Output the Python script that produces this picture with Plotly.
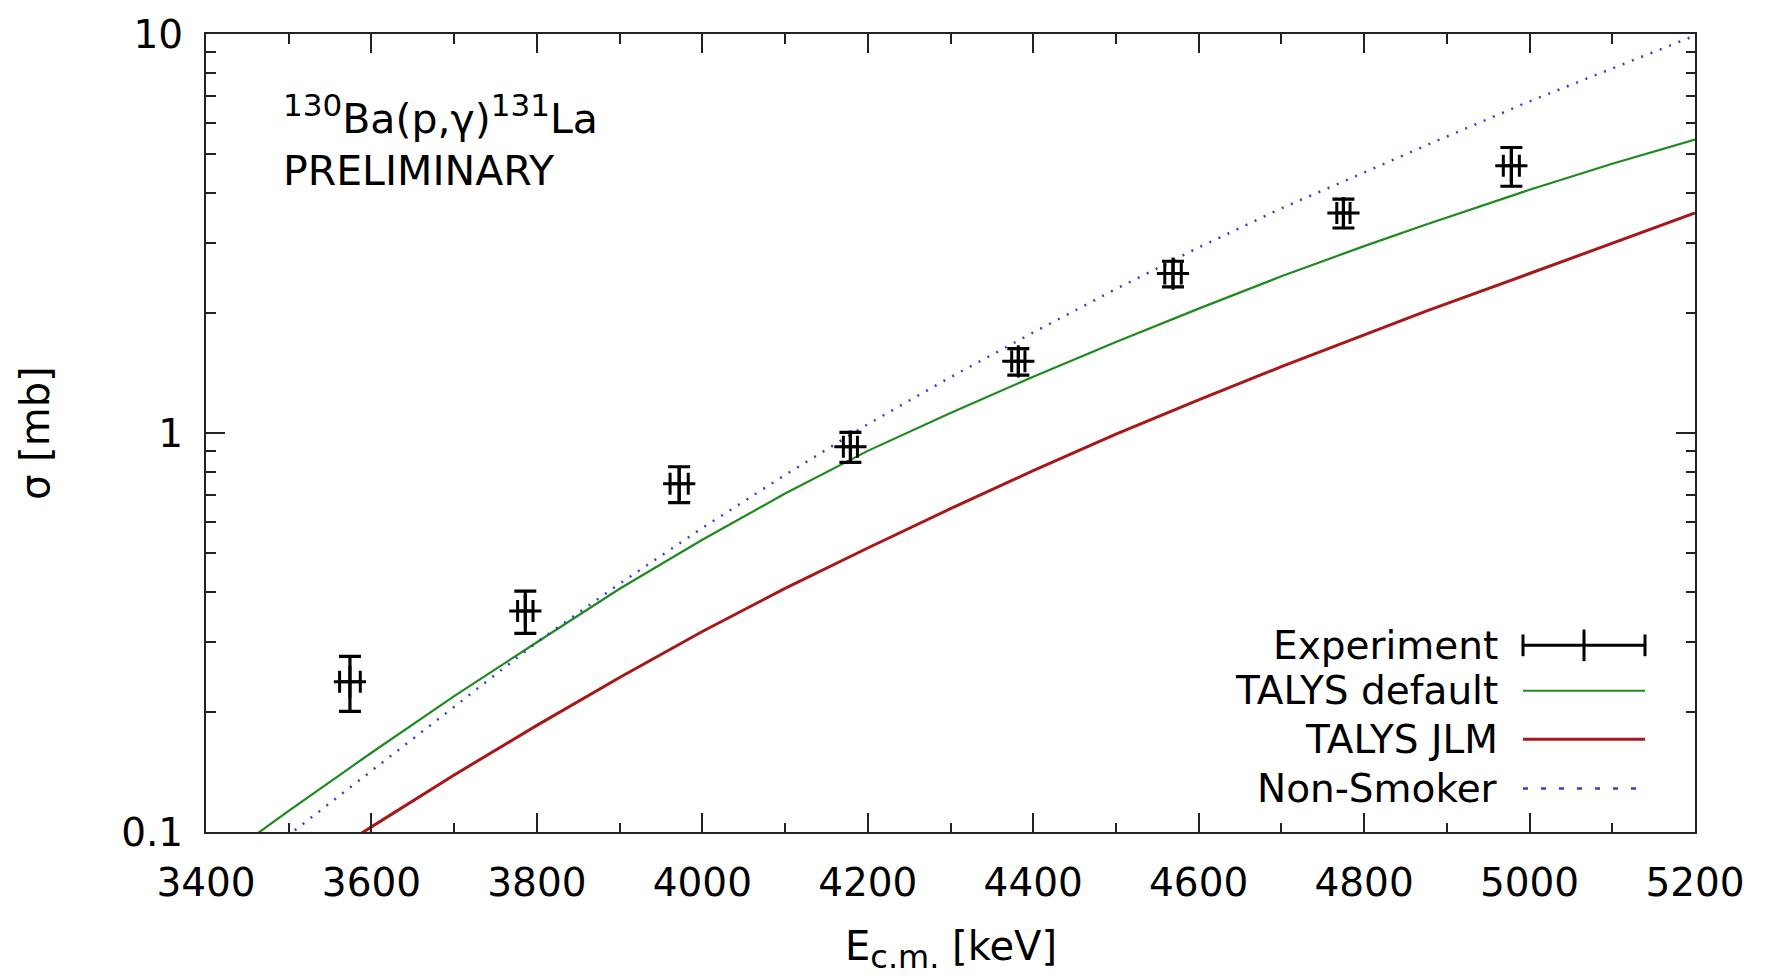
import plotly.graph_objects as go

# Measured cross sections of 130Ba(p,g)131La
exp_energy = [3574, 3786, 3972, 4179, 4382, 4569, 4775, 4978]          # keV (c.m.)
exp_energy_err = [12.5, 9.3, 11.0, 8.5, 8.0, 10.0, 8.0, 9.7]            # keV
exp_sigma = [0.238, 0.358, 0.746, 0.924, 1.512, 2.509, 3.559, 4.674]     # mb
exp_sigma_err = [0.0375, 0.0435, 0.077, 0.080, 0.116, 0.185, 0.295, 0.52]

# TALYS default calculation
talys_def_energy = [3400, 3500, 3600, 3700, 3800, 3900, 4000, 4100, 4200, 4300,
                    4400, 4500, 4600, 4700, 4800, 4875, 5000, 5100, 5200]
talys_def_sigma = [0.080, 0.113, 0.158, 0.219, 0.299, 0.407, 0.540, 0.705, 0.902, 1.122,
                   1.384, 1.69, 2.05, 2.47, 2.94, 3.33, 4.07, 4.73, 5.44]

# TALYS with JLM optical potential
talys_jlm_energy = [3500, 3600, 3700, 3800, 3900, 4000, 4100, 4200, 4300,
                    4400, 4500, 4600, 4700, 4800, 4875, 5000, 5100, 5200]
talys_jlm_sigma = [0.0759, 0.103, 0.139, 0.185, 0.244, 0.318, 0.408, 0.515, 0.646,
                   0.805, 0.993, 1.21, 1.466, 1.76, 2.02, 2.51, 2.99, 3.56]

# NON-SMOKER prediction
nonsmoker_energy = [3450, 3500, 3600, 3700, 3800, 3900, 4000, 4100, 4200, 4300,
                    4400, 4500, 4600, 4700, 4800, 4875, 5000, 5100, 5200]
nonsmoker_sigma = [0.0817, 0.0982, 0.142, 0.206, 0.299, 0.419, 0.578, 0.785, 1.052, 1.380,
                   1.786, 2.296, 2.917, 3.656, 4.498, 5.26, 6.78, 8.18, 9.91]

x_ticks = [3400, 3600, 3800, 4000, 4200, 4400, 4600, 4800, 5000, 5200]
y_ticks = [0.1, 1, 10]
y_tick_text = ["0.1", "1", "10"]
y_minor = [0.2, 0.3, 0.4, 0.5, 0.6, 0.7, 0.8, 0.9, 2, 3, 4, 5, 6, 7, 8, 9]

legend_labels = ["Experiment", "TALYS default", "TALYS JLM", "Non-Smoker"]

GREEN = "#1f8a1f"
RED = "#a81818"
BLUE = "#3b3bd0"
FONT = "DejaVu Sans"
FS_TICK = 39
FS_KEY = 39
FS_NOTE = 41
FS_TITLE = 40

W, H = 1767, 978
ML, MR, MT, MB = 206, 72, 24, 146
PW, PH = W - ML - MR, H - MT - MB


def px(xp):
    return (xp - ML) / PW


def py(yp):
    return (H - MB - yp) / PH


fig = go.Figure()

fig.add_trace(go.Scatter(x=talys_def_energy, y=talys_def_sigma, mode="lines",
                         line=dict(color=GREEN, width=2.2), showlegend=False))
fig.add_trace(go.Scatter(x=talys_jlm_energy, y=talys_jlm_sigma, mode="lines",
                         line=dict(color=RED, width=3), showlegend=False))
fig.add_trace(go.Scatter(x=nonsmoker_energy, y=nonsmoker_sigma, mode="lines",
                         line=dict(color=BLUE, width=2.5, dash="2px,8px"), showlegend=False))
fig.add_trace(go.Scatter(
    x=exp_energy, y=exp_sigma, mode="markers",
    marker=dict(symbol="cross-thin", size=23, line=dict(color="black", width=3), color="black"),
    error_y=dict(type="data", array=exp_sigma_err, width=11, thickness=3.2, color="black"),
    error_x=dict(type="data", array=exp_energy_err, width=11, thickness=3, color="black"),
    showlegend=False))

axis_common = dict(
    showline=True, linewidth=2, linecolor="#222", mirror="allticks",
    ticks="inside", ticklen=19, tickwidth=1.6, tickcolor="#222",
    showgrid=False, zeroline=False, ticklabeloverflow="allow",
    tickfont=dict(family=FONT, size=FS_TICK, color="black"),
)

fig.update_xaxes(range=[3400, 5200], tickvals=x_ticks, ticklabelstandoff=15,
                 minor=dict(dtick=100, tick0=3400, ticks="inside", ticklen=9.5,
                            tickwidth=1.6, tickcolor="#222"),
                 **axis_common)
fig.update_yaxes(type="log", range=[-1, 1], tickvals=y_ticks, ticktext=y_tick_text,
                 ticklabelstandoff=13,
                 minor=dict(tickvals=y_minor, ticks="inside", ticklen=9.5,
                            tickwidth=1.6, tickcolor="#222"),
                 **axis_common)

annotations = [
    dict(text='E<sub><span style="font-size:32px">c.m.</span></sub> [keV]',
         x=0.5, y=py(951), xref="paper", yref="paper",
         showarrow=False, xanchor="center", yanchor="middle",
         font=dict(family=FONT, size=FS_TITLE, color="black")),
    dict(text="σ [mb]", x=px(35), y=0.5, xref="paper", yref="paper", textangle=-90,
         showarrow=False, xanchor="center", yanchor="middle",
         font=dict(family=FONT, size=FS_TITLE, color="black")),
    dict(text='<sup><span style="font-size:31px">130</span></sup>Ba(p,γ)'
              '<sup><span style="font-size:31px">131</span></sup>La',
         x=px(281), y=py(106),
         xref="paper", yref="paper", showarrow=False, xanchor="left", yanchor="middle",
         font=dict(family=FONT, size=FS_NOTE, color="black")),
    dict(text="PRELIMINARY", x=px(281), y=py(163), xref="paper", yref="paper",
         showarrow=False, xanchor="left", yanchor="middle",
         font=dict(family=FONT, size=FS_NOTE, color="black")),
]

# Key: labels on the left, line samples on the right
row_y = [643, 689, 738, 788]
sample_x0, sample_x1 = 1523, 1645
for label, yrow in zip(legend_labels, row_y):
    annotations.append(dict(text=label, x=px(1500), y=py(yrow), xref="paper", yref="paper",
                            showarrow=False, xanchor="right", yanchor="middle",
                            font=dict(family=FONT, size=FS_KEY, color="black")))

shapes = []
# experiment sample: horizontal bar with end caps and a centre tick
ye = row_y[0]
xc = (sample_x0 + sample_x1) / 2
blk = dict(color="black", width=3)
shapes.append(dict(type="line", xref="paper", yref="paper", x0=px(sample_x0), x1=px(sample_x1),
                   y0=py(ye), y1=py(ye), line=blk))
for xx, half in [(sample_x0, 11), (sample_x1, 11), (xc, 16)]:
    shapes.append(dict(type="line", xref="paper", yref="paper", x0=px(xx), x1=px(xx),
                       y0=py(ye - half), y1=py(ye + half), line=blk))
shapes.append(dict(type="line", xref="paper", yref="paper", x0=px(sample_x0), x1=px(sample_x1),
                   y0=py(row_y[1]), y1=py(row_y[1]), line=dict(color=GREEN, width=2.2)))
shapes.append(dict(type="line", xref="paper", yref="paper", x0=px(sample_x0), x1=px(sample_x1),
                   y0=py(row_y[2]), y1=py(row_y[2]), line=dict(color=RED, width=3)))
shapes.append(dict(type="line", xref="paper", yref="paper", x0=px(sample_x0), x1=px(sample_x1),
                   y0=py(row_y[3]), y1=py(row_y[3]),
                   line=dict(color=BLUE, width=2.5, dash="5px,13px")))

fig.update_layout(
    width=W, height=H,
    margin=dict(l=ML, r=MR, t=MT, b=MB),
    paper_bgcolor="white", plot_bgcolor="white",
    font=dict(family=FONT, size=FS_TICK, color="black"),
    annotations=annotations, shapes=shapes,
    showlegend=False,
)

fig.write_html("out.html")
